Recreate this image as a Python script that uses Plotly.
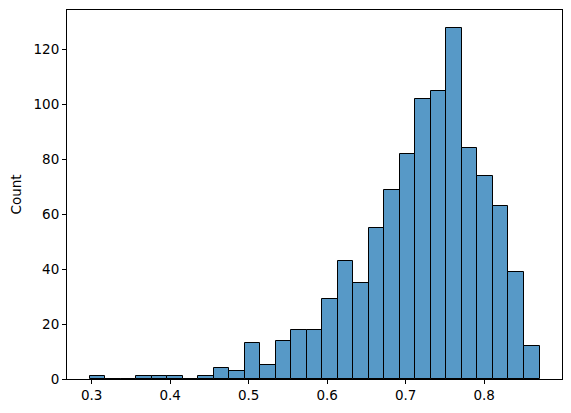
import plotly.graph_objects as go

# histogram bins (29 equal bins, seaborn-style)
bin_start = 0.2972
bin_width = 0.01977
counts = [1, 0, 0, 1, 1, 1, 0, 1, 4, 3, 13, 5, 14, 18, 18, 29, 43, 35,
          55, 69, 82, 102, 105, 128, 84, 74, 63, 39, 12]

x_ticks = [0.3, 0.4, 0.5, 0.6, 0.7, 0.8]
y_ticks = [0, 20, 40, 60, 80, 100, 120]

centers = [bin_start + (i + 0.5) * bin_width for i in range(len(counts))]
data_lo = bin_start
data_hi = bin_start + len(counts) * bin_width
pad = (data_hi - data_lo) * 0.05

fig = go.Figure()
fig.add_trace(
    go.Bar(
        x=centers,
        y=counts,
        width=[bin_width] * len(counts),
        marker=dict(color='rgb(87,153,199)', line=dict(color='black', width=1)),
        showlegend=False,
    )
)

axis_common = dict(
    showgrid=False,
    zeroline=False,
    showline=True,
    linecolor='black',
    linewidth=1,
    mirror=True,
    ticks='outside',
    ticklen=4,
    tickwidth=1,
    tickcolor='black',
    tickfont=dict(family='DejaVu Sans', size=13.5, color='black'),
)

fig.update_xaxes(
    range=[data_lo - pad, data_hi + pad],
    tickvals=x_ticks,
    ticktext=[f'{v:.1f}' for v in x_ticks],
    **axis_common,
)
fig.update_yaxes(
    range=[0, max(counts) * 1.05],
    tickvals=y_ticks,
    title=dict(text='Count', font=dict(family='DejaVu Sans', size=13.5, color='black'), standoff=10),
    **axis_common,
)

# page body has an 8px margin, so the figure is offset by 8px
fig.update_layout(
    width=563,
    height=405,
    margin=dict(l=59, r=9, t=2, b=34),
    plot_bgcolor='white',
    paper_bgcolor='white',
    bargap=0,
    font=dict(family='DejaVu Sans', size=13.5, color='black'),
)

fig.write_html("out.html")
